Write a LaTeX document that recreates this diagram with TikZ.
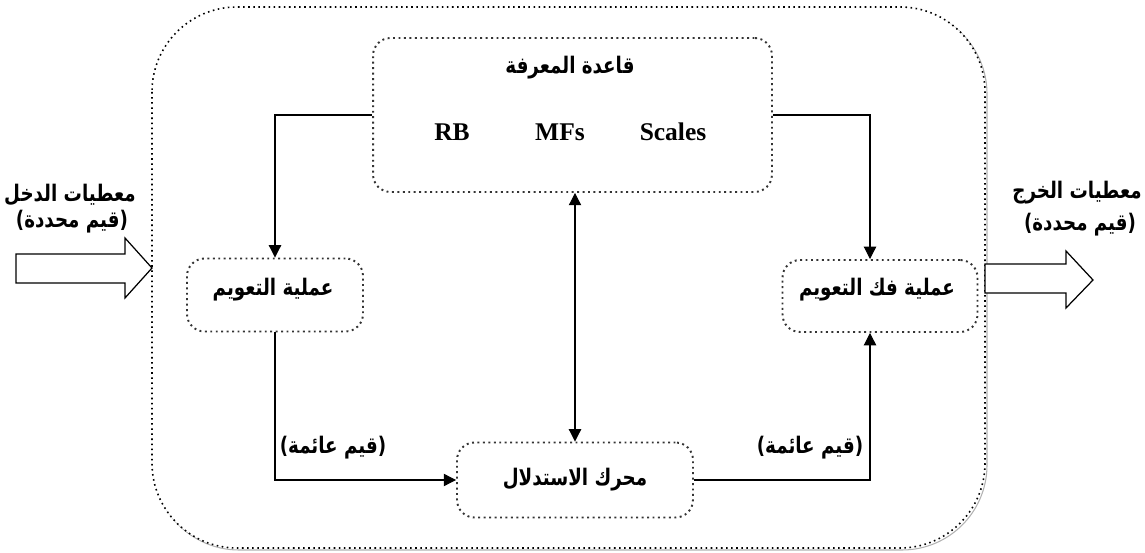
\documentclass[tikz,border=0pt]{standalone}
\usepackage{fontspec}
\setmainfont{Liberation Serif}
\newfontfamily\arabicfont[Script=Arabic,FakeStretch=0.8]{DejaVu Sans}
\TeXXeTstate=1
\usetikzlibrary{arrows.meta,calc}
\newcommand{\ar}[1]{{\arabicfont\bfseries\beginR #1\endR}}
\begin{document}
\begin{tikzpicture}[x=0.02cm,y=-0.02cm,
  dotbox/.style={draw=black!80, dotted, line width=1.1pt, rounded corners=0.35cm},
  conn/.style={draw, line width=0.6pt, -{Triangle[length=7pt,width=7pt]}},
  arlab/.style={font=\fontsize{13}{15}\selectfont},
  latlab/.style={font=\fontsize{14.5}{16}\selectfont\bfseries},
  blockarrow/.style={draw, line width=0.7pt, fill=white}]
\useasboundingbox (0,0) rectangle (1145,553);
% shadow & outer box
\draw[gray!60, line width=0.6pt, rounded corners=1.7cm] (154,9) rectangle (987,550);
\draw[fill=white, dotted, line width=0.9pt, rounded corners=1.7cm] (152,7) rectangle (985,548);
% boxes
\node[dotbox, minimum width=7.98cm, minimum height=3.08cm] (kb) at (572.5,115) {};
\node[arlab] (kbt) at (570,68) {\ar{قاعدة المعرفة}};
\node[latlab] (rb) at (452,132) {RB};
\node[latlab] (mf) at (560,132) {MFs};
\node[latlab] (sc) at (673,132) {Scales};
\node[dotbox, minimum width=3.52cm, minimum height=1.46cm] (fz) at (275,295) {};
\node[arlab] at (273,290) {\ar{عملية التعويم}};
\node[dotbox, minimum width=3.9cm, minimum height=1.44cm] (dfz) at (880,296) {};
\node[arlab] at (877,290) {\ar{عملية فك التعويم}};
\node[dotbox, minimum width=4.72cm, minimum height=1.5cm] (inf) at (575,480) {};
\node[arlab] at (575,480) {\ar{محرك الاستدلال}};
% connectors
\draw[conn] (kb.west) -| (fz.north);
\draw[conn] (kb.east) -| ([xshift=-0.2cm]dfz.north);
\draw[conn] (fz.south) |- (inf.west);
\draw[conn] (inf.east) -| ([xshift=-0.2cm]dfz.south);
\draw[line width=0.6pt, {Triangle[length=7pt,width=7pt]}-{Triangle[length=7pt,width=7pt]}] (inf.north |- kb.south) -- (inf.north);
% labels
\node[arlab] (l1) at (333,448) {\ar{(قيم عائمة)}};
\node[arlab] (l2) at (810,448) {\ar{(قيم عائمة)}};
\node[arlab] (in1) at (70,195) {\ar{معطيات الدخل}};
\node[arlab] (in2) at (72,222) {\ar{(قيم محددة)}};
\node[arlab] (out1) at (1077,193) {\ar{معطيات الخرج}};
\node[arlab] (out2) at (1080,225) {\ar{(قيم محددة)}};
% block arrows
\draw[blockarrow] (16,254) -- (125,254) -- (125,238) -- (152,268) -- (125,298) -- (125,283) -- (16,283) -- cycle;
\draw[blockarrow] (985,264) -- (1066,264) -- (1066,251) -- (1093,280) -- (1066,308) -- (1066,293) -- (985,293) -- cycle;
\end{tikzpicture}
\end{document}
